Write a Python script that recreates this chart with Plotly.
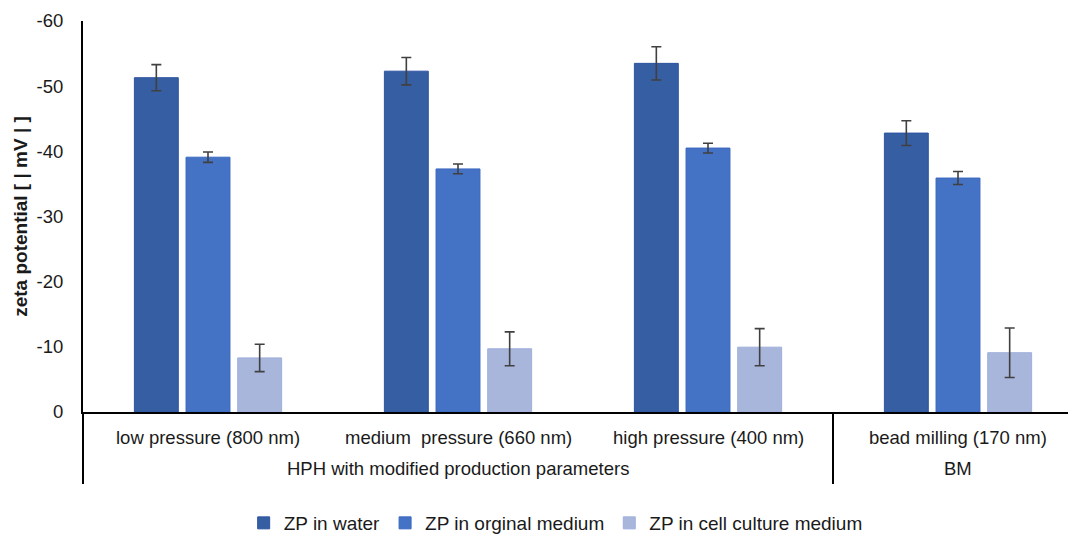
import plotly.graph_objects as go

groups = ["HPH with modified production parameters", "BM"]
group_centers = ["medium  pressure (660 nm)", "bead milling (170 nm)"]
categories = ["low pressure (800 nm)", "medium  pressure (660 nm)",
              "high pressure (400 nm)", "bead milling (170 nm)"]

zp_water = [-51.3, -52.3, -53.5, -42.8]
zp_water_err = [2.0, 2.1, 2.55, 1.9]
zp_orig = [-39.1, -37.3, -40.5, -35.9]
zp_orig_err = [0.8, 0.75, 0.75, 1.0]
zp_cell = [-8.3, -9.7, -9.95, -9.1]
zp_cell_err = [2.1, 2.6, 2.85, 3.8]

series_names = ["ZP in water", "ZP in orginal medium", "ZP in cell culture medium"]
colors = ["#365EA3", "#4472C4", "#A8B6DC"]
borders = ["#2E54A0", "#3B68C0", "#9FAFDB"]

ytick_vals = [0, -10, -20, -30, -40, -50, -60]
ytick_text = ["0", "-10", "-20", "-30", "-40", "-50", "-60"]

font = "Liberation Sans, Arial, sans-serif"
txt = "#1a1a1a"
fs = 18.5

W, H = 1068, 528
L, T, B = 75, 13, 124
plot_h = H - T - B
plot_w = W - L

fig = go.Figure()
for name, vals, errs, col, bc in zip(series_names,
                                     [zp_water, zp_orig, zp_cell],
                                     [zp_water_err, zp_orig_err, zp_cell_err],
                                     colors, borders):
    fig.add_trace(go.Bar(
        x=categories, y=vals, name=name,
        marker=dict(color=col, line=dict(color=bc, width=1)),
        error_y=dict(type="data", array=errs, color="#404040",
                     thickness=1.6, width=5),
    ))

# category labels (row 1) and group labels (row 2)
for c in categories:
    fig.add_annotation(x=c, xref="x", y=0, yref="paper", yanchor="middle",
                       yshift=-25, text=c, showarrow=False,
                       font=dict(size=fs, color=txt, family=font))
for g, gc in zip(groups, group_centers):
    fig.add_annotation(x=gc, xref="x", y=0, yref="paper", yanchor="middle",
                       yshift=-56, text=g, showarrow=False,
                       font=dict(size=fs, color=txt, family=font))

div_bottom = -72 / plot_h
fig.add_shape(type="line", xref="paper", x0=0, x1=0, yref="paper",
              y0=0, y1=div_bottom, line=dict(color="#000000", width=2))
fig.add_shape(type="line", xref="x", x0=2.5, x1=2.5, yref="paper",
              y0=0, y1=div_bottom, line=dict(color="#000000", width=2))

fig.update_layout(
    width=W, height=H,
    margin=dict(l=L, r=0, t=T, b=B, autoexpand=False),
    paper_bgcolor="white", plot_bgcolor="white",
    barmode="group", bargap=0.38, bargroupgap=0.15,
    font=dict(family=font, size=fs, color=txt),
    showlegend=True,
    legend=dict(orientation="h", x=0.476, xanchor="center",
                y=-(515 - 404) / plot_h, yanchor="middle",
                font=dict(size=19, color=txt), itemwidth=30),
    xaxis=dict(type="category", range=[-0.5, -0.5 + plot_w / 250],
               showline=True, linecolor="#000000", linewidth=2,
               showticklabels=False, ticks="", showgrid=False,
               automargin=False),
    yaxis=dict(range=[0, -60], tickvals=ytick_vals, ticktext=ytick_text,
               showline=True, linecolor="#000000", linewidth=2,
               showgrid=False, zeroline=False, ticks="",
               ticklabelstandoff=14, automargin=False,
               tickfont=dict(size=fs, color=txt),
               title=dict(text="<b>zeta potential [ | mV | ]</b>",
                          font=dict(size=19, color=txt), standoff=4)),
)

fig.write_html("out.html")
